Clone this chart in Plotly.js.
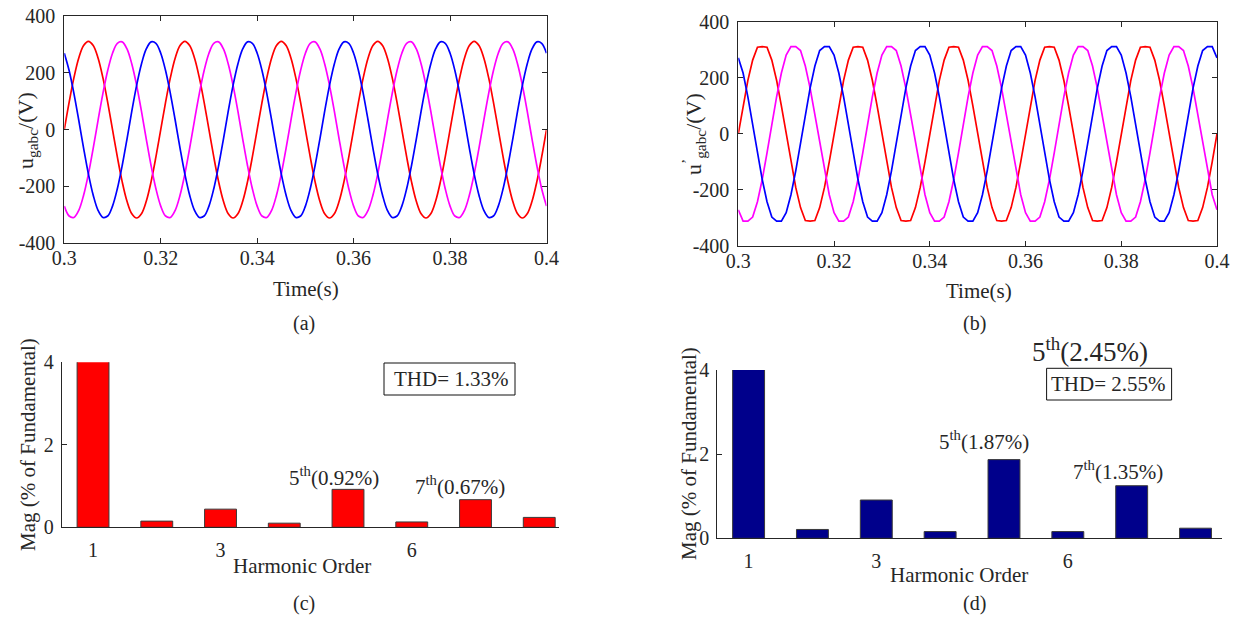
<!DOCTYPE html>
<html>
<head>
<meta charset="utf-8">
<script src="https://cdn.plot.ly/plotly-3.0.1.min.js"></script>
<style>html,body{margin:0;padding:0;background:#fff;}#chart{width:1237px;height:617px;}</style>
</head>
<body>
<div id="chart"></div>
<script>
// ---- Data ----
// (a) grid voltages u_gabc, sampled every 1 ms from t = 0.3 s
const redA = [
0,96,183,252,296,311,296,252,183,96,0,-96,-183,-252,-296,-311,-296,-252,-183,-96,
0,96,183,252,296,311,296,252,183,96,0,-96,-183,-252,-296,-311,-296,-252,-183,-96,
0,96,183,252,296,311,296,252,183,96,0,-96,-183,-252,-296,-311,-296,-252,-183,-96,
0,96,183,252,296,311,296,252,183,96,0,-96,-183,-252,-296,-311,-296,-252,-183,-96,
0,96,183,252,296,311,296,252,183,96,0,-96,-183,-252,-296,-311,-296,-252,-183,-96,
0];
const blueA = [
269,208,127,33,-65,-156,-231,-284,-309,-304,-269,-208,-127,-33,65,156,231,284,309,304,
269,208,127,33,-65,-156,-231,-284,-309,-304,-269,-208,-127,-33,65,156,231,284,309,304,
269,208,127,33,-65,-156,-231,-284,-309,-304,-269,-208,-127,-33,65,156,231,284,309,304,
269,208,127,33,-65,-156,-231,-284,-309,-304,-269,-208,-127,-33,65,156,231,284,309,304,
269,208,127,33,-65,-156,-231,-284,-309,-304,-269,-208,-127,-33,65,156,231,284,309,304,
269];
const magentaA = [
-269,-304,-309,-284,-231,-156,-65,33,127,208,269,304,309,284,231,156,65,-33,-127,-208,
-269,-304,-309,-284,-231,-156,-65,33,127,208,269,304,309,284,231,156,65,-33,-127,-208,
-269,-304,-309,-284,-231,-156,-65,33,127,208,269,304,309,284,231,156,65,-33,-127,-208,
-269,-304,-309,-284,-231,-156,-65,33,127,208,269,304,309,284,231,156,65,-33,-127,-208,
-269,-304,-309,-284,-231,-156,-65,33,127,208,269,304,309,284,231,156,65,-33,-127,-208,
-269];
// (b) distorted voltages u'_gabc, sampled every 1 ms from t = 0.3 s
const redB = [
0,100,191,263,309,311,309,263,191,100,0,-100,-191,-263,-309,-311,-309,-263,-191,-100,
0,100,191,263,309,311,309,263,191,100,0,-100,-191,-263,-309,-311,-309,-263,-191,-100,
0,100,191,263,309,311,309,263,191,100,0,-100,-191,-263,-309,-311,-309,-263,-191,-100,
0,100,191,263,309,311,309,263,191,100,0,-100,-191,-263,-309,-311,-309,-263,-191,-100,
0,100,191,263,309,311,309,263,191,100,0,-100,-191,-263,-309,-311,-309,-263,-191,-100,
0];
const blueB = [
271,217,132,34,-68,-163,-242,-297,-311,-311,-281,-217,-132,-34,68,163,242,297,311,311,
281,217,132,34,-68,-163,-242,-297,-311,-311,-281,-217,-132,-34,68,163,242,297,311,311,
281,217,132,34,-68,-163,-242,-297,-311,-311,-281,-217,-132,-34,68,163,242,297,311,311,
281,217,132,34,-68,-163,-242,-297,-311,-311,-281,-217,-132,-34,68,163,242,297,311,311,
281,217,132,34,-68,-163,-242,-297,-311,-311,-281,-217,-132,-34,68,163,242,297,311,311,
271];
const magentaB = [
-271,-311,-311,-297,-242,-163,-68,34,132,217,281,311,311,297,242,163,68,-34,-132,-217,
-281,-311,-311,-297,-242,-163,-68,34,132,217,281,311,311,297,242,163,68,-34,-132,-217,
-281,-311,-311,-297,-242,-163,-68,34,132,217,281,311,311,297,242,163,68,-34,-132,-217,
-281,-311,-311,-297,-242,-163,-68,34,132,217,281,311,311,297,242,163,68,-34,-132,-217,
-281,-311,-311,-297,-242,-163,-68,34,132,217,281,311,311,297,242,163,68,-34,-132,-217,
-271];
const tStart = 0.3, tStep = 0.001;

// Harmonic spectra (% of fundamental)
const harmonicOrder = [1,2,3,4,5,6,7,8];
const magC = [100, 0.15, 0.44, 0.10, 0.92, 0.13, 0.67, 0.24];
const magD = [100, 0.21, 0.91, 0.16, 1.87, 0.16, 1.25, 0.24];

// Tick labels
const timeTickVals = [0.3,0.32,0.34,0.36,0.38,0.4];
const timeTickText = ['0.3','0.32','0.34','0.36','0.38','0.4'];
const voltTickVals = [-400,-200,0,200,400];
const voltTickText = ['-400','-200','0','200','400'];
const harmTickVals = [1,3,6];
const harmTickText = ['1','3','6'];
const magTickVals = [0,2,4];
const magTickText = ['0','2','4'];

// ---- Layout helpers ----
const W = 1237, H = 617;
const px = x => x / W;
const py = y => 1 - y / H;
const FONT = 'Liberation Serif';
const INK = '#262626';
const tickFont = {family: FONT, size: 20, color: INK};
const titleFont = {family: FONT, size: 21, color: INK};

function waveTrace(y, color, ax, spline) {
  return {type:'scatter', mode:'lines', x0:tStart, dx:tStep, y:y,
    xaxis:'x'+ax, yaxis:'y'+ax, hoverinfo:'skip',
    line:{color:color, width:1.7, shape: spline ? 'spline' : 'linear', smoothing:1}};
}
function barTrace(y, color, ax) {
  return {type:'bar', x:harmonicOrder, y:y, width:0.5, xaxis:'x'+ax, yaxis:'y'+ax,
    marker:{color:color, line:{color:'#3a3a3a', width:1}}, hoverinfo:'skip'};
}

const data = [
  waveTrace(redA, '#ff0000', '', true),
  waveTrace(magentaA, '#ff00ff', '', true),
  waveTrace(blueA, '#0000ff', '', true),
  waveTrace(redB, '#ff0000', '2', false),
  waveTrace(magentaB, '#ff00ff', '2', false),
  waveTrace(blueB, '#0000ff', '2', false),
  barTrace(magC, '#ff0000', '3'),
  barTrace(magD, '#00008b', '4')
];

function timeAxis(d0, d1, anchor) {
  return {domain:[d0,d1], anchor:anchor, range:[0.3,0.4], tickvals:timeTickVals, ticktext:timeTickText,
    ticks:'inside', ticklen:5, tickcolor:INK, showline:true, linecolor:INK, linewidth:1, mirror:'ticks',
    showgrid:false, zeroline:false, tickfont:tickFont, ticklabelstandoff:-3, fixedrange:true};
}
function voltAxis(d0, d1, anchor) {
  return {domain:[d0,d1], anchor:anchor, range:[-400,400], tickvals:voltTickVals, ticktext:voltTickText,
    ticks:'inside', ticklen:5, tickcolor:INK, showline:true, linecolor:INK, linewidth:1, mirror:'ticks',
    showgrid:false, zeroline:false, tickfont:tickFont, ticklabelstandoff:4, fixedrange:true};
}
function harmAxis(d0, d1, anchor, r1) {
  return {domain:[d0,d1], anchor:anchor, range:[0.51, r1], tickvals:harmTickVals, ticktext:harmTickText,
    ticks:'', showline:true, linecolor:INK, linewidth:1, showgrid:false, zeroline:false,
    tickfont:tickFont, ticklabelstandoff:5, fixedrange:true};
}
function magAxis(d0, d1, anchor) {
  return {domain:[d0,d1], anchor:anchor, range:[0,4], tickvals:magTickVals, ticktext:magTickText,
    ticks:'inside', ticklen:5, tickcolor:INK, showline:true, linecolor:INK, linewidth:1,
    showgrid:false, zeroline:false, tickfont:tickFont, ticklabelstandoff:3, fixedrange:true};
}

function label(text, x, y, opts) {
  return Object.assign({text:text, x:px(x), y:py(y), xref:'paper', yref:'paper',
    xanchor:'center', yanchor:'middle', showarrow:false, font:titleFont}, opts || {});
}

const layout = {
  width: W, height: H,
  margin:{l:0, r:0, t:0, b:0},
  paper_bgcolor:'#ffffff', plot_bgcolor:'rgba(0,0,0,0)',
  font:{family:FONT, color:INK},
  showlegend:false, bargap:0,
  xaxis: timeAxis(px(64.3), px(546.5), 'y'),
  yaxis: voltAxis(py(243.3), py(16), 'x'),
  xaxis2: timeAxis(px(738.3), px(1217), 'y2'),
  yaxis2: voltAxis(py(246), py(21.7), 'x2'),
  xaxis3: harmAxis(px(61.8), px(559), 'y3', 8.31),
  yaxis3: magAxis(py(527.3), py(362.3), 'x3'),
  xaxis4: harmAxis(px(717.3), px(1221.7), 'y4', 8.41),
  yaxis4: magAxis(py(538.3), py(370), 'x4'),
  shapes: [
    {type:'rect', xref:'paper', yref:'paper', x0:px(384), x1:px(515), y0:py(395), y1:py(363),
      line:{color:'#111', width:1}, fillcolor:'rgba(255,255,255,0)'},
    {type:'rect', xref:'paper', yref:'paper', x0:px(1046.6), x1:px(1171.6), y0:py(400), y1:py(368.3),
      line:{color:'#111', width:1}, fillcolor:'rgba(255,255,255,0)'}
  ],
  annotations: [
    label('Time(s)', 306, 289),
    label('Time(s)', 979, 291),
    label('(a)', 304, 323, {font:{family:FONT, size:20, color:INK}}),
    label('(b)', 974, 324, {font:{family:FONT, size:20, color:INK}}),
    label('u<sub>gabc</sub>/(V)', 27, 131, {textangle:-90, font:{family:FONT, size:22, color:INK}}),
    label('u<sup>’</sup><sub>gabc</sub>/(V)', 693, 134, {textangle:-90, font:{family:FONT, size:22, color:INK}}),
    label('Harmonic Order', 302, 566),
    label('Harmonic Order', 959, 575),
    label('(c)', 304, 603, {font:{family:FONT, size:20, color:INK}}),
    label('(d)', 974, 603, {font:{family:FONT, size:20, color:INK}}),
    label('Mag (% of Fundamental)', 28, 445, {textangle:-90}),
    label('Mag (% of Fundamental)', 689, 454, {textangle:-90}),
    label('THD= 1.33%', 451, 379),
    label('THD= 2.55%', 1108, 384),
    label('5<sup>th</sup>(0.92%)', 334, 476),
    label('7<sup>th</sup>(0.67%)', 460, 485),
    label('5<sup>th</sup>(1.87%)', 984, 440),
    label('7<sup>th</sup>(1.35%)', 1118, 470),
    label('5<sup>th</sup>(2.45%)', 1090, 350, {font:{family:FONT, size:27, color:INK}})
  ]
};

Plotly.newPlot('chart', data, layout, {staticPlot:true, displayModeBar:false});
</script>
</body>
</html>
